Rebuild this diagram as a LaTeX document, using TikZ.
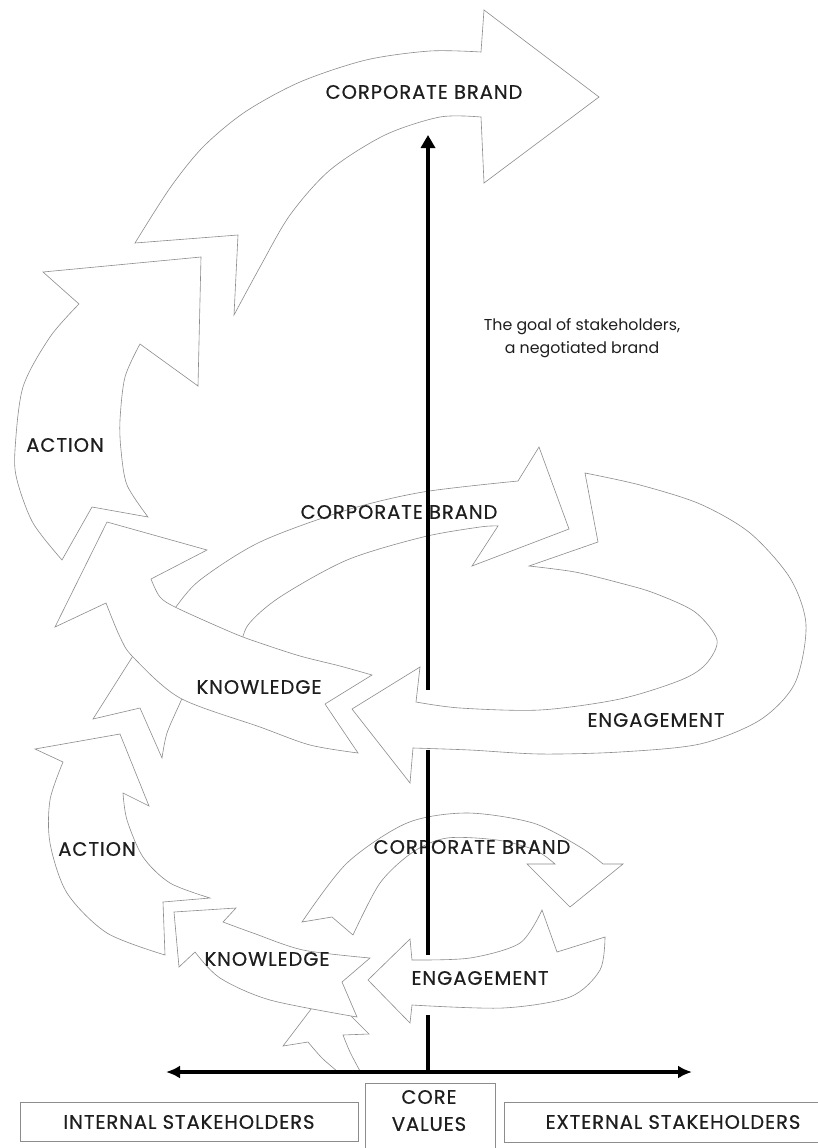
\documentclass[tikz,border=0pt]{standalone}
\usepackage{fontspec}
\setmainfont{Poppins}
\newfontfamily\capsfont[LetterSpace=5,FakeBold=0.6]{Poppins}
\usetikzlibrary{arrows.meta}
\definecolor{edge}{HTML}{8C8C8C}
\definecolor{ink}{HTML}{1E1E1E}
\tikzset{
  hollow/.style={draw=edge, line width=0.6pt, fill=white, line join=miter},
  lab/.style={text=ink, font=\capsfont\fontsize{19.5}{21}\selectfont, inner sep=0pt},
  note/.style={text=ink, font=\fontsize{15.8}{23}\selectfont, inner sep=0pt, align=center},
  vaxis/.style={line width=3.4pt, draw=black},
  haxis/.style={line width=4pt, draw=black},
  frame/.style={draw=edge, line width=0.6pt}
}
\begin{document}
\begin{tikzpicture}[x=1pt,y=-1pt]
\useasboundingbox[fill=white] (0,0) rectangle (817,1148);

% ---------- top CORPORATE BRAND arrow
\path[hollow] (135,243) -- (238,235) -- (234,315)
  -- plot[smooth] coordinates {(234,315) (260,267) (290,215) (330,170) (385,135) (440,117) (481,117)}
  -- (484,183) -- (599,97) -- (484,10) -- (481,52)
  -- plot[smooth] coordinates {(481,52) (430,51) (366,60) (300,82) (245,112) (203,147) (170,188) (135,243)} -- cycle;

% ---------- upper ACTION arrow
\path[hollow] (43,272) -- (201,257) -- (198,386) -- (140,344)
  -- plot[smooth] coordinates {(140,344) (125,377) (120,420) (121,450) (127,485) (148,517)}
  -- (92,507) -- (62,560)
  -- plot[smooth] coordinates {(62,560) (33,523) (17,480) (15,450) (23,387) (50,337) (79,304)} -- cycle;

% ---------- middle CORPORATE BRAND arrow (behind knowledge)
\path[hollow] plot[smooth] coordinates {(165,622) (175,608) (200,580) (260,542) (347,510) (423,492) (518,481)}
  -- (539,447) -- (569,529) -- (472,566) -- (498,526)
  -- plot[smooth] coordinates {(498,526) (480,527) (423,537) (347,560) (280,597) (248,625) (240,650)} -- cycle;

% ---------- lower CORPORATE BRAND arrow
\path[hollow] (302,922) -- (332,917) -- (353,935)
  -- plot[smooth] coordinates {(353,935) (380,883) (413,852) (447,838) (497,840) (535,850) (555,864)}
  -- (527,864) -- (570,907) -- (623,864) -- (603,864)
  -- plot[smooth] coordinates {(603,864) (580,847) (533,823) (467,813) (407,823) (347,863) (302,922)} -- cycle;

% ---------- small arrow under middle KNOWLEDGE
\path[hollow] (138,648) -- (93,719) -- (140,708) -- (162,758)
  -- plot[smooth] coordinates {(162,758) (167,733) (180,703) (190,680)} -- (150,640) -- cycle;

% ---------- middle KNOWLEDGE arrow
\path[hollow] (107,522) -- (207,550) -- (151,579)
  -- plot[smooth] coordinates {(151,579) (160,597) (177,608) (233,633) (260,643) (300,656) (340,666) (372,675)}
  -- (325,704) -- (358,753)
  -- plot[smooth] coordinates {(358,753) (310,745) (260,727) (180,698) (133,657) (120,637) (106,603)}
  -- (55,627) -- cycle;

% ---------- middle ENGAGEMENT arrow
\path[hollow] (585,473) -- (598,542) -- (529,566)
  -- plot[smooth] coordinates {(529,566) (575,572) (620,583) (654,593) (695,612) (717,640) (706,664) (681,680) (620,699) (540,710) (460,708) (416,702)}
  -- (420,667) -- (352,709) -- (410,783) -- (413,748)
  -- plot[smooth] coordinates {(413,748) (470,750) (540,754) (620,752) (700,744) (760,720) (795,683) (806,625) (790,578) (750,533) (700,504) (640,485) (585,473)} -- cycle;

% ---------- lower ACTION arrow
\path[hollow] (35,749) -- (120,734) -- (149,806) -- (123,793)
  -- plot[smooth] coordinates {(123,793) (127,820) (143,857) (170,883) (210,898)}
  -- (163,902) -- (165,955)
  -- plot[smooth] coordinates {(165,955) (107,933) (67,893) (50,843) (50,800) (63,762)} -- cycle;

% ---------- small arrow above the axis
\path[hollow] (318,1000) -- (283,1046) -- (308,1042)
  -- plot[smooth] coordinates {(308,1042) (322,1058) (337,1071)}
  -- (360,1071)
  -- plot[smooth] coordinates {(360,1071) (350,1052) (343,1035)}
  -- (369,1034) -- (340,1005) -- cycle;

% ---------- lower KNOWLEDGE arrow
\path[hollow] (174,912) -- (236,908) -- (223,922)
  -- plot[smooth] coordinates {(223,922) (253,933) (303,950) (370,958)}
  -- (342,982) -- (357,1017)
  -- plot[smooth] coordinates {(357,1017) (270,1000) (220,978) (195,952)}
  -- (179,967) -- cycle;

% ---------- lower ENGAGEMENT arrow
\path[hollow] (542,910) -- (557,952) -- (605,937)
  -- plot[smooth] coordinates {(605,937) (600,970) (570,997) (503,1008) (412,1005)}
  -- (410,1023) -- (368,980) -- (410,939) -- (412,960)
  -- plot[smooth] coordinates {(412,960) (470,958) (520,943) (542,910)} -- cycle;

% ---------- labels
\node[lab] (cbA) at (424,92) {CORPORATE BRAND};
\node[note] (goal) at (582,338.5) {The goal of stakeholders,\\a negotiated brand};
\node[lab] (actA) at (65,445) {ACTION};
\node[lab] (cbB) at (399,512) {CORPORATE BRAND};
\node[lab] (knB) at (259,687) {KNOWLEDGE};
\node[lab] (enB) at (656,720) {ENGAGEMENT};
\node[lab] (actC) at (97,849) {ACTION};
\node[lab] (cbC) at (472,847) {CORPORATE BRAND};
\node[lab] (knC) at (267,959) {KNOWLEDGE};
\node[lab] (enC) at (480,978) {ENGAGEMENT};

% ---------- axes
\coordinate (origin) at (428,1072);
\coordinate (top) at (428,135);
\coordinate (left) at (166,1072);
\coordinate (right) at (692,1072);
\draw[vaxis, -{Triangle[length=13pt,width=14pt]}] (428,690) -- (top);
\draw[vaxis] (428,750) -- (428,955);
\draw[vaxis] (428,1015) -- (origin);
\draw[haxis, {Latex[length=14pt,width=13pt]}-{Latex[length=14pt,width=13pt]}] (left) -- (right);

% ---------- bottom boxes
\draw[frame] (20,1102) rectangle (358,1141);
\draw[frame] (365,1150) -- (365,1083) -- (495,1083) -- (495,1150);
\draw[frame] (820,1102) -- (504,1102) -- (504,1142) -- (820,1142);
\node[lab] (internal) at (189,1122) {INTERNAL STAKEHOLDERS};
\node[lab] (core) at (429,1097) {CORE};
\node[lab] (values) at (429,1124) {VALUES};
\node[lab] (external) at (673,1122) {EXTERNAL STAKEHOLDERS};
\end{tikzpicture}
\end{document}
